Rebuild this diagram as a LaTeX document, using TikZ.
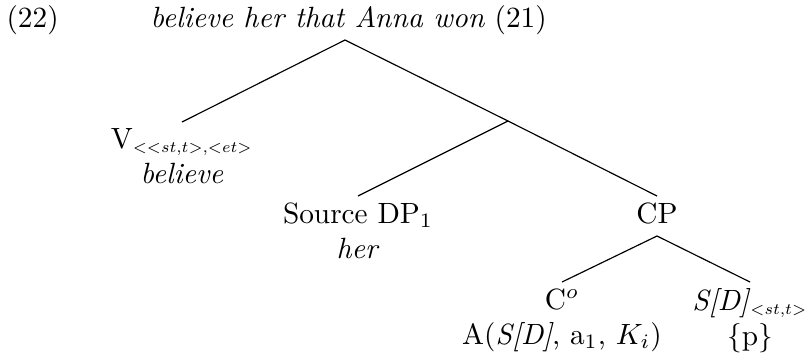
\documentclass[tikz,border=0pt]{standalone}
\usepackage{graphicx}
\newcommand{\tsub}[1]{$_{\scalebox{0.77}{$\scriptstyle #1$}}$}
\begin{document}
\begin{tikzpicture}[x=0.3413pt,y=-0.3413pt,
  tnode/.style={anchor=north,align=center,inner sep=2pt},
  edge/.style={line width=0.4pt}]
\useasboundingbox (0,0) rectangle (806,356);
\node[anchor=base west,inner sep=0] (num) at (6,27) {(22)};
\node[anchor=base west,inner sep=0] (root) at (150,27) {\textit{believe her that Anna won} (21)};
\coordinate (top) at (345,40);
\coordinate (mid) at (508,121);
\node[tnode] (V) at (182,122) {V\tsub{<<st,t>,<et>}\\\textit{believe}};
\node[tnode] (DP) at (358,196) {Source DP$_1$\\\textit{her}};
\node[tnode] (CP) at (657,196) {CP};
\coordinate (CPb) at (657,236);
\node[tnode] (C) at (562,282) {C$^o$\\A(\textit{S[D]}, a$_1$, $K_i$)};
\node[tnode] (S) at (750,282) {\textit{S[D]}\tsub{<st,t>}\\\{p\}};
\draw[edge] (top) -- (V.north);
\draw[edge] (top) -- (mid);
\draw[edge] (mid) -- (DP.north);
\draw[edge] (mid) -- (CP.north);
\draw[edge] (CPb) -- (C.north);
\draw[edge] (CPb) -- (S.north);
\end{tikzpicture}
\end{document}
